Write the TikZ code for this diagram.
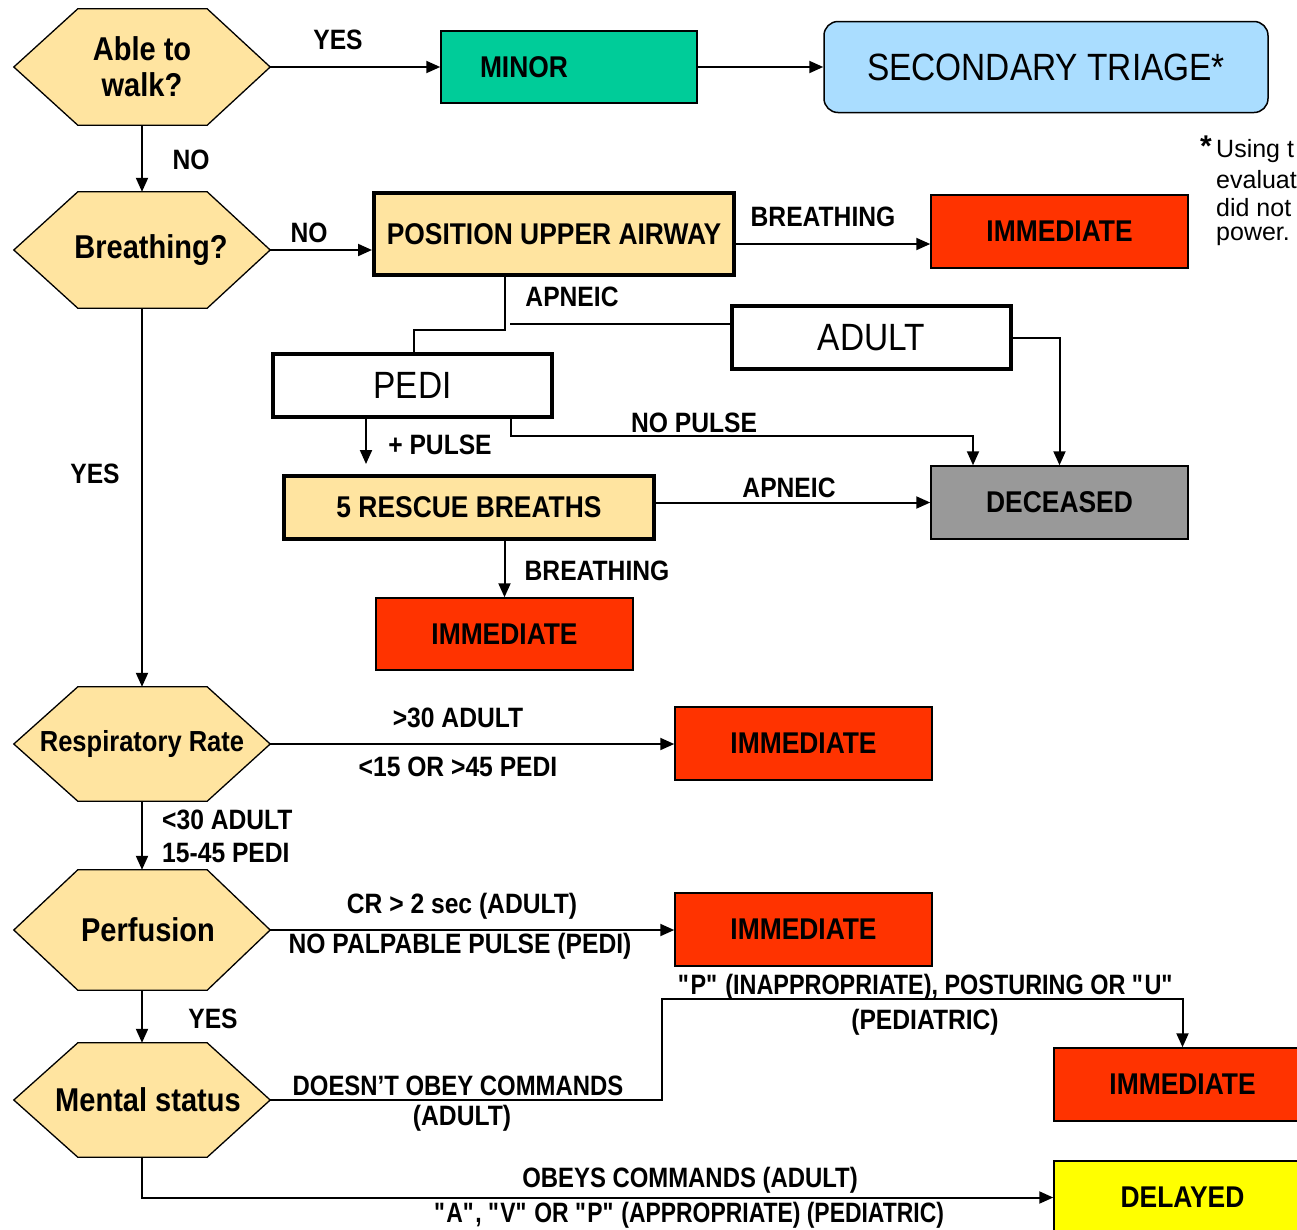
\documentclass[tikz,border=0pt]{standalone}
\usepackage{fontspec}
\setmainfont{Liberation Sans}[FakeStretch=0.88]
\newfontfamily\notefont{Liberation Sans}
\usetikzlibrary{arrows.meta,calc,backgrounds}
\definecolor{hexfill}{RGB}{255,228,160}
\definecolor{minorc}{RGB}{0,204,153}
\definecolor{secc}{RGB}{170,221,255}
\definecolor{immc}{RGB}{255,51,0}
\definecolor{decc}{RGB}{153,153,153}
\definecolor{delc}{RGB}{255,255,0}
\newcommand{\hexshape}[1]{\filldraw[fill=hexfill,draw=black,line width=1.3pt] (#1.west) -- ($(#1.north west)+(64,0)$) -- ($(#1.north east)+(-63,0)$) -- (#1.east) -- ($(#1.south east)+(-63,0)$) -- ($(#1.south west)+(64,0)$) -- cycle;}
\newcommand{\dq}{\textquotedbl}
\begin{document}
\begin{tikzpicture}[x=1pt,y=-1pt,
  conn/.style={line width=2pt},
  arr/.style={conn,-{Triangle[length=14pt,width=12pt]}},
  hexa/.style={minimum width=256pt,minimum height=#1,inner sep=0pt,align=center,font=\bfseries\fontsize{33}{36}\selectfont},
  bbox/.style={draw,line width=1.5pt,minimum width=257pt,minimum height=73pt,inner sep=0pt,font=\bfseries\fontsize{30}{32}\selectfont},
  tbox/.style={draw,line width=4pt,inner sep=0pt,font=\bfseries\fontsize{30}{32}\selectfont},
  wbox/.style={draw,line width=4pt,fill=white,minimum width=279pt,minimum height=63pt,inner sep=0pt,font=\fontsize{38}{40}\selectfont},
  lbl/.style={inner sep=0pt,font=\bfseries\fontsize{28}{30}\selectfont},
  note/.style={inner sep=0pt,anchor=west,font=\notefont\fontsize{25}{28}\selectfont},
]
\useasboundingbox (0,0) rectangle (1297,1229);
\clip (0,0) rectangle (1297,1229);

% decision hexagons
\node[hexa=116pt] (walk) at (142,67) {Able to\\walk?};
\node[hexa=116pt] (breath) at (142,250) {\hspace*{18pt}Breathing?};
\node[hexa=114pt,font=\bfseries\fontsize{29}{32}\selectfont] (resp) at (142,744) {Respiratory Rate};
\node[hexa=120pt] (perf) at (142,930) {\hspace*{12pt}Perfusion};
\node[hexa=114pt] (mental) at (142,1100) {\hspace*{12pt}Mental status};
\begin{scope}[on background layer]
  \fill[white] (0,0) rectangle (1297,1229);
  \hexshape{walk}
  \hexshape{breath}
  \hexshape{resp}
  \hexshape{perf}
  \hexshape{mental}
\end{scope}

% boxes
\node[bbox,fill=minorc,minimum width=256pt,minimum height=72pt,text width=178pt,inner xsep=39pt,align=left] (minor) at (569,67) {MINOR};
\node[draw,line width=1.5pt,fill=secc,rounded corners=14pt,minimum width=444pt,minimum height=91pt,inner sep=0pt,font=\fontsize{38}{40}\selectfont] (sec) at (1046,67) {SECONDARY TRIAGE*};
\node[tbox,fill=hexfill,minimum width=360pt,minimum height=82pt] (pos) at (554,234) {POSITION UPPER AIRWAY};
\node[bbox,fill=immc] (imm1) at (1059.5,231.5) {IMMEDIATE};
\node[wbox] (adult) at (871.5,337.5) {ADULT};
\node[wbox] (pedi) at (412.5,385.5) {PEDI};
\node[bbox,fill=decc] (dec) at (1059.5,502.5) {DECEASED};
\node[tbox,fill=hexfill,minimum width=370pt,minimum height=63pt] (resc) at (469,507.5) {5 RESCUE BREATHS};
\node[bbox,fill=immc,minimum height=72pt] (imm2) at (504.5,634) {IMMEDIATE};
\node[bbox,fill=immc] (imm3) at (803.5,743.5) {IMMEDIATE};
\node[bbox,fill=immc] (imm4) at (803.5,929.5) {IMMEDIATE};
\node[bbox,fill=immc] (imm5) at (1182.5,1084.5) {IMMEDIATE};
\node[bbox,fill=delc] (delayed) at (1182.5,1197.5) {DELAYED};

% footnote
\node[inner sep=0pt,font=\notefont\bfseries\fontsize{30}{30}\selectfont] (star) at (1206,146) {*};
\node[note] (n1) at (1216,151) {Using t};
\node[note] (n2) at (1216,180) {evaluat};
\node[note] (n3) at (1216,208) {did not};
\node[note] (n4) at (1216,236) {power.};

% connectors
\draw[arr] (walk.east) -- (minor.west);
\draw[arr] (minor.east) -- (sec.west);
\draw[arr] (walk.south) -- (breath.north);
\draw[arr] (breath.east) -- (breath.east -| pos.west);
\draw[arr] ($(pos.east)+(0,10)$) coordinate (pe) -- (pe -| imm1.west);
\draw[conn] (pos.south -| 505,0) -- (505,330) -- (414,330) -- (414,0 |- pedi.north);
\coordinate (apn) at (510,324);
\draw[conn] (apn) -- (apn -| adult.west);
\draw[arr] (adult.east) -| (dec.north);
\draw[arr,shorten >=10pt] (pedi.south -| 366,0) -- (366,0 |- resc.north);
\draw[arr] (pedi.south -| 511,0) -- (511,436) -| (973,0 |- dec.north);
\draw[arr] (dec.west -| resc.east) -- (dec.west);
\draw[arr] (imm2.north |- resc.south) -- (imm2.north);
\draw[arr] (breath.south) -- (resp.north);
\draw[arr] (resp.east) -- (resp.east -| imm3.west);
\draw[arr] (resp.south) -- (perf.north);
\draw[arr] (perf.east) -- (perf.east -| imm4.west);
\draw[arr] (perf.south) -- (mental.north);
\draw[arr] (mental.east) -- ++(392,0) |- ($(imm5.north)+(0,-48)$) -- (imm5.north);
\draw[arr] (mental.south) |- (delayed.west);

% labels
\node[lbl] at (338,40) {YES};
\node[lbl] at (191,160) {NO};
\node[lbl] at (309,233) {NO};
\node[lbl] at (823,217) {BREATHING};
\node[lbl] at (572,297) {APNEIC};
\node[lbl] at (440,445) {+ PULSE};
\node[lbl] at (694,423) {NO PULSE};
\node[lbl] at (789,488) {APNEIC};
\node[lbl] at (597,571) {BREATHING};
\node[lbl] at (95,474) {YES};
\node[lbl] at (458,718) {>30 ADULT};
\node[lbl] at (458,767) {<15 OR >45 PEDI};
\node[lbl,anchor=west] at (162,820) {<30 ADULT};
\node[lbl,anchor=west] at (162,853) {15-45 PEDI};
\node[lbl] at (462,906) {CR > 2 sec (ADULT)};
\node[lbl] at (460,946) {NO PALPABLE PULSE (PEDI)};
\node[lbl] at (213,1019) {YES};
\node[lbl] at (458,1086) {\scalebox{0.97}[1]{DOESN'T OBEY COMMANDS}};
\node[lbl] at (462,1118) {(ADULT)};
\node[lbl] at (926,987) {\scalebox{0.95}[1]{\dq P\dq\ (INAPPROPRIATE), POSTURING OR \dq U\dq}};
\node[lbl] at (925,1022) {(PEDIATRIC)};
\node[lbl] at (690,1180) {\scalebox{0.97}[1]{OBEYS COMMANDS (ADULT)}};
\node[lbl] at (689,1215) {\scalebox{0.93}[1]{\dq A\dq, \dq V\dq\ OR \dq P\dq\ (APPROPRIATE) (PEDIATRIC)}};
\end{tikzpicture}
\end{document}
